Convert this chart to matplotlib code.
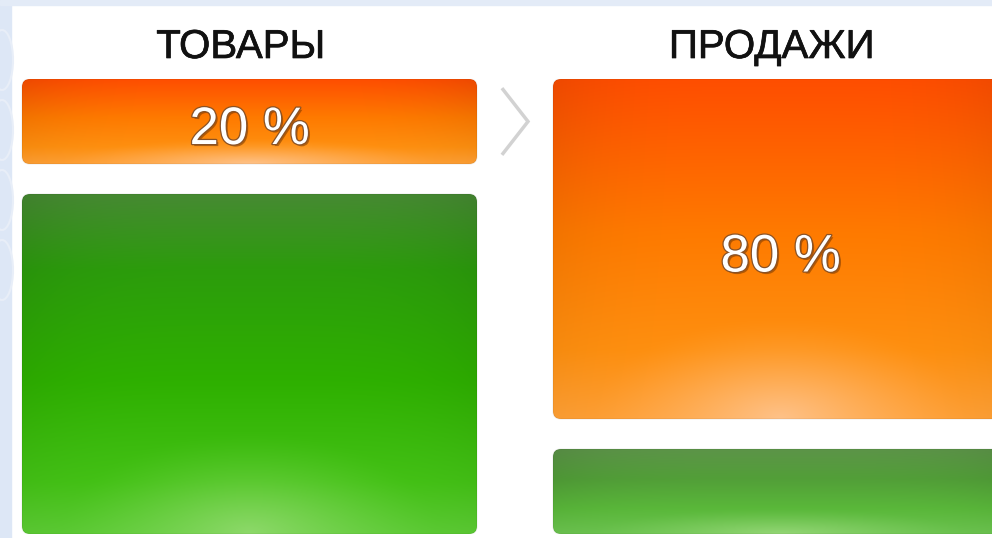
import numpy as np
import matplotlib
matplotlib.use("Agg")
import matplotlib.pyplot as plt
from matplotlib.patches import FancyBboxPatch, Rectangle
from matplotlib.colors import to_rgb
import matplotlib.patheffects as pe

# data: 20/80 rule
columns = ["ТОВАРЫ", "ПРОДАЖИ"]
top_share = [20, 80]               # orange part, %
bottom_share = [80, 20]            # green part, %
top_labels = ["20 %", "80 %"]

plt.rcParams['font.family'] = ['Liberation Sans', 'DejaVu Sans']

W, H = 992, 538
fig = plt.figure(figsize=(W / 100, H / 100), dpi=100)
fig.patch.set_facecolor("white")

# light blue frame on the left / top
fig.patches.append(Rectangle((0, 0), 11 / W, 1, transform=fig.transFigure,
                             color="#dde7f6", zorder=0))
fig.patches.append(Rectangle((0, 1 - 5 / H), 1, 5 / H, transform=fig.transFigure,
                             color="#e3ebf7", zorder=0))
for yc in [60, 130, 200, 270]:
    fig.patches.append(matplotlib.patches.Ellipse((2 / W, 1 - yc / H), 22 / W, 60 / H,
                       transform=fig.transFigure, fill=False, ec="#e8eef8", lw=1.5, zorder=0))

px_x = 531.0          # pixels per category step
px_y = 4.25           # pixels per percent
gap = 30 / px_y       # gap between the two parts, in %
bar_w = 455 / px_x
x0_px = 249.5

ax = fig.add_axes([0, 1 - 534 / H, 1, 455 / H])
ax.set_xlim(-x0_px / px_x, (W - x0_px) / px_x)
ax.set_ylim(100 + gap, 0)
ax.axis("off")
ax.patch.set_alpha(0)

aspect = (1 / px_y) / (1 / px_x)
rad = 8 / px_x


def gradient(stops, glow, glow_amt, side=0.07, n=200):
    t = np.linspace(0, 1, n)
    pos = [s[0] for s in stops]
    cols = np.array([to_rgb(s[1]) for s in stops])
    col = np.stack([np.interp(t, pos, cols[:, k]) for k in range(3)], axis=1)
    img = np.repeat(col[:, None, :], n, axis=1)
    xx, yy = np.meshgrid(np.linspace(0, 1, n), t)
    edge = 1 - side * (np.abs(xx - 0.5) * 2) ** 4 * (1 - 0.6 * yy)
    img = img * edge[..., None]
    r = np.sqrt(((xx - 0.5) / 0.42) ** 2 + ((yy - 1.0) / 0.3) ** 2)
    g = np.clip(1 - r, 0, 1) ** 1.4 * glow_amt
    img = img * (1 - g[..., None]) + np.array(to_rgb(glow)) * g[..., None]
    return np.clip(img, 0, 1)


orange_stops = [(0, "#ff4e00"), (0.45, "#ff7a00"), (0.8, "#ff9010"), (1, "#ffa035")]
green_stops = [(0, "#468a32"), (0.22, "#2c9c0c"), (0.55, "#2eb000"), (0.85, "#44c216"), (1, "#5ccb34")]
green_small = [(0, "#5c9448"), (0.35, "#529f38"), (0.7, "#5ab83a"), (1, "#6cc450")]


def draw_part(x, y0, y1, stops, glow, amt):
    left = x - bar_w / 2
    box = FancyBboxPatch((left, y0), bar_w, y1 - y0,
                         boxstyle=f"round,pad=0,rounding_size={rad}",
                         mutation_aspect=aspect, fc="none",
                         ec=(0, 0, 0, 0.06), lw=1.0, zorder=3)
    ax.add_patch(box)
    im = ax.imshow(gradient(stops, glow, amt), extent=(left, left + bar_w, y1, y0),
                   origin="upper", aspect="auto", zorder=2, interpolation="bilinear")
    im.set_clip_path(box)


text_fx = [pe.SimplePatchShadow(offset=(1.5, -1.5), shadow_rgbFace="#6a3000", alpha=0.5),
           pe.withStroke(linewidth=1.8, foreground="#8a5226")]
title_fx = [pe.withStroke(linewidth=0.5, foreground="#111111")]

for i, name in enumerate(columns):
    x = i
    draw_part(x, 0, top_share[i], orange_stops, "#ffd0ac", 0.7)
    gs = green_stops if bottom_share[i] > 50 else green_small
    draw_part(x, top_share[i] + gap, top_share[i] + gap + bottom_share[i],
              gs, "#aee28e", 0.6)
    ax.text(x - 9 / px_x, -32 / px_y, name, ha="center", va="center",
            fontsize=29, color="#111111", clip_on=False, path_effects=title_fx)
    ax.text(x, top_share[i] / 2 + 2.0, top_labels[i], ha="center", va="center",
            fontsize=38, color="white", path_effects=text_fx, zorder=5)

# chevron between the columns
cx = 0 + bar_w / 2 + (1 - bar_w) / 2
ax.plot([cx - 12 / px_x, cx + 13 / px_x, cx - 12 / px_x],
        [top_share[0] / 2 - 32 / px_y, top_share[0] / 2, top_share[0] / 2 + 32 / px_y],
        color="#d2d2d2", lw=2.5, solid_joinstyle="miter", clip_on=False)

fig.savefig("out.png", dpi=100)
